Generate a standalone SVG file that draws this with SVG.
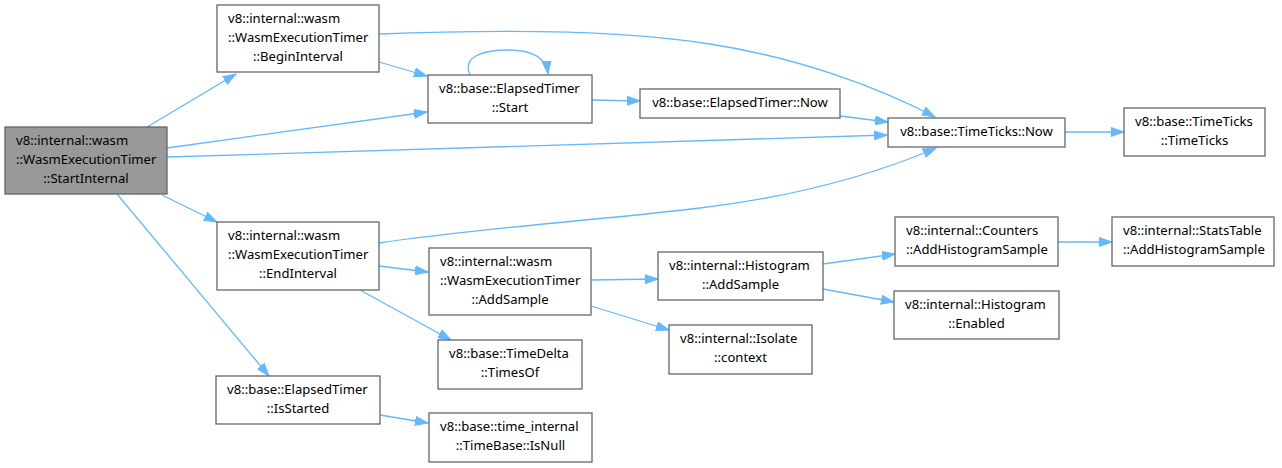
<svg xmlns="http://www.w3.org/2000/svg" width="1282" height="468" viewBox="0 0 1282 468">
<style>
.n rect{fill:#ffffff;stroke:#666666;stroke-width:1.3}
.n.hl rect{fill:#999999}
.n text{font-family:"Noto Sans","DejaVu Sans",sans-serif;font-size:13.1px;fill:#000000}
.n text.c{text-anchor:middle}
#edges path{fill:none;stroke:#63b8ff;stroke-width:1.3;marker-end:url(#arr)}
</style>
<defs>
<marker id="arr" markerUnits="userSpaceOnUse" markerWidth="14" markerHeight="10" refX="13" refY="5" orient="auto" viewBox="0 0 14 10">
<path d="M0,0.5 L13,5 L0,9.5 z" fill="#63b8ff" stroke="#63b8ff" stroke-width="1"/>
</marker>
</defs>
<rect width="1282" height="468" fill="#ffffff"/>
<g id="edges">
<path d="M147,127 L236,74"/>
<path d="M167,148 L427,112"/>
<path d="M167,157 L887,135"/>
<path d="M162,195 L217,222"/>
<path d="M117,194 L269,376"/>
<path d="M379,62 L427,76"/>
<path d="M379,34 C480,30 610,28 710,44 C800,58 880,88 935,117"/>
<path d="M470,75 C462,57 482,50 508,50 C530,50 546,56 548,74"/>
<path d="M592,100 L640,101"/>
<path d="M840,116 L888,122"/>
<path d="M379,243 C480,228 620,218 700,208 C800,196 880,172 936,148"/>
<path d="M379,266 L428,272"/>
<path d="M360,290 L451,340"/>
<path d="M380,415 L428,423"/>
<path d="M591,280 L658,279"/>
<path d="M591,306 L669,330"/>
<path d="M823,264 L895,254"/>
<path d="M823,289 L894,302"/>
<path d="M1058,242 L1112,242"/>
<path d="M1065,132 L1124,132"/>
</g>
<g id="n_startinternal" class="n hl"><rect x="5" y="127" width="162" height="67"/><text x="16" y="145">v8::internal::wasm</text><text x="16" y="164">::WasmExecutionTimer</text><text class="c" x="86" y="183">::StartInternal</text></g>
<g id="n_begininterval" class="n"><rect x="217" y="5" width="162" height="67"/><text x="228" y="23">v8::internal::wasm</text><text x="228" y="42">::WasmExecutionTimer</text><text class="c" x="298" y="61">::BeginInterval</text></g>
<g id="n_start" class="n"><rect x="428" y="75" width="164" height="48"/><text x="439" y="93">v8::base::ElapsedTimer</text><text class="c" x="510" y="112">::Start</text></g>
<g id="n_etnow" class="n"><rect x="640" y="89" width="200" height="29"/><text class="c" x="740" y="107">v8::base::ElapsedTimer::Now</text></g>
<g id="n_ttnow" class="n"><rect x="888" y="118" width="177" height="29"/><text class="c" x="976.5" y="136">v8::base::TimeTicks::Now</text></g>
<g id="n_timeticks" class="n"><rect x="1124" y="108" width="141" height="48"/><text x="1135" y="126">v8::base::TimeTicks</text><text class="c" x="1194.5" y="145">::TimeTicks</text></g>
<g id="n_endinterval" class="n"><rect x="217" y="222" width="162" height="68"/><text x="228" y="240">v8::internal::wasm</text><text x="228" y="259">::WasmExecutionTimer</text><text class="c" x="298" y="278">::EndInterval</text></g>
<g id="n_addsample" class="n"><rect x="429" y="248" width="162" height="67"/><text x="440" y="266">v8::internal::wasm</text><text x="440" y="285">::WasmExecutionTimer</text><text class="c" x="510" y="304">::AddSample</text></g>
<g id="n_timesof" class="n"><rect x="438" y="340" width="144" height="49"/><text x="449" y="358">v8::base::TimeDelta</text><text class="c" x="510" y="377">::TimesOf</text></g>
<g id="n_isstarted" class="n"><rect x="216" y="376" width="164" height="48"/><text x="227" y="394">v8::base::ElapsedTimer</text><text class="c" x="298" y="413">::IsStarted</text></g>
<g id="n_isnull" class="n"><rect x="429" y="413" width="163" height="49"/><text x="440" y="431">v8::base::time_internal</text><text class="c" x="510.5" y="450">::TimeBase::IsNull</text></g>
<g id="n_histaddsample" class="n"><rect x="658" y="252" width="165" height="48"/><text x="669" y="270">v8::internal::Histogram</text><text class="c" x="740.5" y="289">::AddSample</text></g>
<g id="n_context" class="n"><rect x="669" y="325" width="143" height="49"/><text x="680" y="343">v8::internal::Isolate</text><text class="c" x="740.5" y="362">::context</text></g>
<g id="n_counters" class="n"><rect x="895" y="217" width="163" height="49"/><text x="906" y="235">v8::internal::Counters</text><text x="906" y="254">::AddHistogramSample</text></g>
<g id="n_enabled" class="n"><rect x="894" y="291" width="165" height="48"/><text x="905" y="309">v8::internal::Histogram</text><text class="c" x="976.5" y="328">::Enabled</text></g>
<g id="n_statstable" class="n"><rect x="1112" y="217" width="162" height="49"/><text x="1123" y="235">v8::internal::StatsTable</text><text x="1123" y="254">::AddHistogramSample</text></g>
</svg>
